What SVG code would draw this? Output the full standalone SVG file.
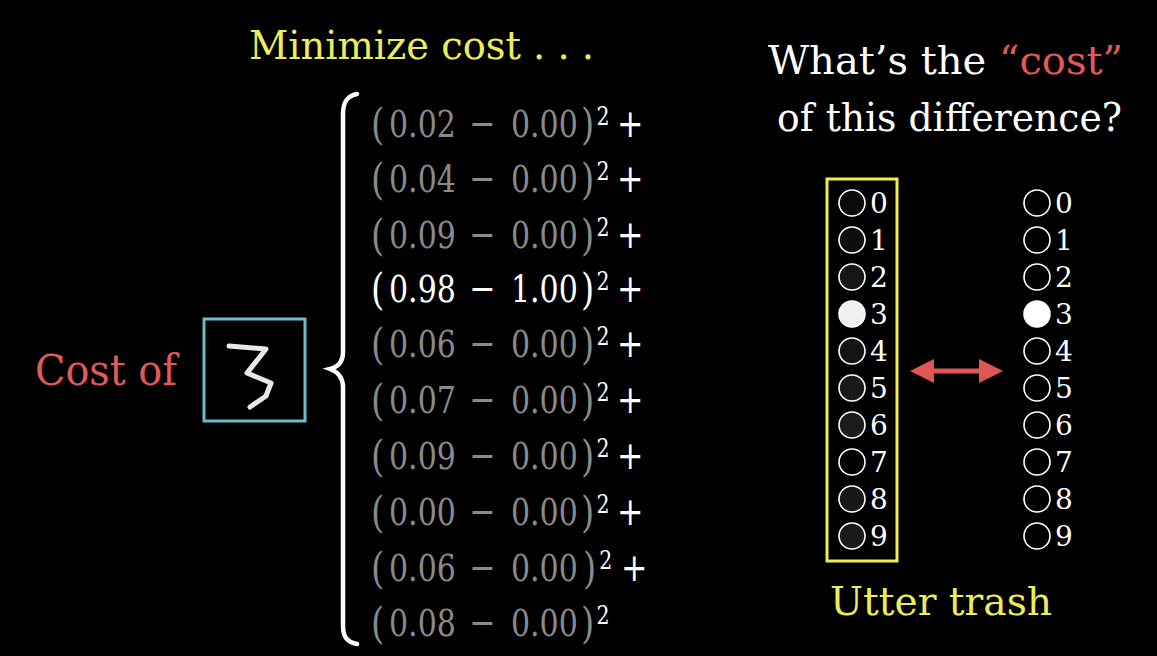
<svg xmlns="http://www.w3.org/2000/svg" width="1157" height="656" viewBox="0 0 1157 656">
<style>
text{font-family:"DejaVu Serif",serif;}
.g{fill:#8a8a8a;}
.w{fill:#ffffff;}
.num{font-size:38px;}
.mn{font-size:40px;}
.par{font-size:43px;}
.sup{font-size:26px;fill:#ffffff;}
.plus{font-size:40px;fill:#ffffff;}
.yel{fill:#eded5a;}
.red{fill:#e05a5a;}
.lbl{font-size:28px;fill:#ffffff;}
.c{stroke:#ffffff;stroke-width:1.6;}
</style>
<defs>
<marker id="ah" viewBox="0 0 24 24" refX="0" refY="12" markerWidth="24" markerHeight="24" markerUnits="userSpaceOnUse" orient="auto-start-reverse">
<path d="M0,0 L24,12 L0,24 Z" fill="#e05555"/>
</marker>
</defs>
<rect x="0" y="0" width="1157" height="656" fill="#000000"/>

<g id="title-minimize">
<text class="yel" x="249" y="59" font-size="40" textLength="345" lengthAdjust="spacingAndGlyphs">Minimize cost . . .</text>
</g>

<g id="title-question">
<text class="w" x="768" y="74" font-size="40" textLength="355" lengthAdjust="spacingAndGlyphs">What’s the <tspan class="red">“cost”</tspan></text>
<text class="w" x="777" y="131" font-size="40" textLength="345" lengthAdjust="spacingAndGlyphs">of this difference?</text>
</g>

<g id="cost-of">
<text class="red" x="35" y="385" font-size="42" textLength="142" lengthAdjust="spacingAndGlyphs">Cost of</text>
</g>

<g id="input-image">
<rect x="204" y="319" width="101" height="102" fill="#000" stroke="#6cbcc9" stroke-width="3"/>
<polyline points="229,346 266,349 247,373 271,383 266,396 250,407" fill="none" stroke="#e8e8e8" stroke-width="5" stroke-linecap="round" stroke-linejoin="round"/>
</g>

<g id="brace">
<path d="M357,94 C347,96 343,102 343,114 L343,352 C343,362 338,367 330,369 C338,372 343,377 343,387 L343,626 C343,637 347,642 357,644" fill="none" stroke="#ffffff" stroke-width="4.5" stroke-linecap="round"/>
</g>

<g id="sum-terms">
<text transform="translate(0,137) scale(0.79,1)"><tspan class="g par" x="469.6" y="2">(</tspan><tspan class="g num" x="492.4" y="0">0.02</tspan><tspan class="g mn" x="594" y="0">−</tspan><tspan class="g num" x="646.8" y="0">0.00</tspan><tspan class="g par" x="735.4" y="2">)</tspan><tspan class="sup" x="755" y="-12">2</tspan><tspan class="plus" x="781" y="0">+</tspan></text>
<text transform="translate(0,192) scale(0.79,1)"><tspan class="g par" x="469.6" y="2">(</tspan><tspan class="g num" x="492.4" y="0">0.04</tspan><tspan class="g mn" x="594" y="0">−</tspan><tspan class="g num" x="646.8" y="0">0.00</tspan><tspan class="g par" x="735.4" y="2">)</tspan><tspan class="sup" x="755" y="-12">2</tspan><tspan class="plus" x="781" y="0">+</tspan></text>
<text transform="translate(0,248) scale(0.79,1)"><tspan class="g par" x="469.6" y="2">(</tspan><tspan class="g num" x="492.4" y="0">0.09</tspan><tspan class="g mn" x="594" y="0">−</tspan><tspan class="g num" x="646.8" y="0">0.00</tspan><tspan class="g par" x="735.4" y="2">)</tspan><tspan class="sup" x="755" y="-12">2</tspan><tspan class="plus" x="781" y="0">+</tspan></text>
<text transform="translate(0,302) scale(0.79,1)"><tspan class="w par" x="469.6" y="2">(</tspan><tspan class="w num" x="492.4" y="0">0.98</tspan><tspan class="w mn" x="594" y="0">−</tspan><tspan class="w num" x="646.8" y="0">1.00</tspan><tspan class="w par" x="735.4" y="2">)</tspan><tspan class="sup" x="755" y="-12">2</tspan><tspan class="plus" x="781" y="0">+</tspan></text>
<text transform="translate(0,357) scale(0.79,1)"><tspan class="g par" x="469.6" y="2">(</tspan><tspan class="g num" x="492.4" y="0">0.06</tspan><tspan class="g mn" x="594" y="0">−</tspan><tspan class="g num" x="646.8" y="0">0.00</tspan><tspan class="g par" x="735.4" y="2">)</tspan><tspan class="sup" x="755" y="-12">2</tspan><tspan class="plus" x="781" y="0">+</tspan></text>
<text transform="translate(0,413) scale(0.79,1)"><tspan class="g par" x="469.6" y="2">(</tspan><tspan class="g num" x="492.4" y="0">0.07</tspan><tspan class="g mn" x="594" y="0">−</tspan><tspan class="g num" x="646.8" y="0">0.00</tspan><tspan class="g par" x="735.4" y="2">)</tspan><tspan class="sup" x="755" y="-12">2</tspan><tspan class="plus" x="781" y="0">+</tspan></text>
<text transform="translate(0,469) scale(0.79,1)"><tspan class="g par" x="469.6" y="2">(</tspan><tspan class="g num" x="492.4" y="0">0.09</tspan><tspan class="g mn" x="594" y="0">−</tspan><tspan class="g num" x="646.8" y="0">0.00</tspan><tspan class="g par" x="735.4" y="2">)</tspan><tspan class="sup" x="755" y="-12">2</tspan><tspan class="plus" x="781" y="0">+</tspan></text>
<text transform="translate(0,525) scale(0.79,1)"><tspan class="g par" x="469.6" y="2">(</tspan><tspan class="g num" x="492.4" y="0">0.00</tspan><tspan class="g mn" x="594" y="0">−</tspan><tspan class="g num" x="646.8" y="0">0.00</tspan><tspan class="g par" x="735.4" y="2">)</tspan><tspan class="sup" x="755" y="-12">2</tspan><tspan class="plus" x="781" y="0">+</tspan></text>
<text transform="translate(0,581) scale(0.79,1)"><tspan class="g par" x="469.6" y="2">(</tspan><tspan class="g num" x="492.4" y="0">0.06</tspan><tspan class="g mn" x="594" y="0">−</tspan><tspan class="g num" x="646.8" y="0">0.00</tspan><tspan class="g par" x="738" y="2">)</tspan><tspan class="sup" x="758.5" y="-12">2</tspan><tspan class="plus" x="786" y="0">+</tspan></text>
<text transform="translate(0,636) scale(0.79,1)"><tspan class="g par" x="469.6" y="2">(</tspan><tspan class="g num" x="492.4" y="0">0.08</tspan><tspan class="g mn" x="594" y="0">−</tspan><tspan class="g num" x="646.8" y="0">0.00</tspan><tspan class="g par" x="735.4" y="2">)</tspan><tspan class="sup" x="755" y="-12">2</tspan></text>
</g>

<g id="network-output">
<rect x="827" y="179" width="70" height="382" fill="none" stroke="#eded50" stroke-width="3"/>
<circle class="c" cx="852" cy="203" r="13" fill="#0a0a0a"/><text class="lbl" x="870" y="213">0</text>
<circle class="c" cx="852" cy="240" r="13" fill="#0e0e0e"/><text class="lbl" x="870" y="250">1</text>
<circle class="c" cx="852" cy="277" r="13" fill="#161616"/><text class="lbl" x="870" y="287">2</text>
<circle class="c" cx="852" cy="314" r="13" fill="#f0f0f0"/><text class="lbl" x="870" y="324">3</text>
<circle class="c" cx="852" cy="351" r="13" fill="#141414"/><text class="lbl" x="870" y="361">4</text>
<circle class="c" cx="852" cy="388" r="13" fill="#1a1a1a"/><text class="lbl" x="870" y="398">5</text>
<circle class="c" cx="852" cy="425" r="13" fill="#1c1c1c"/><text class="lbl" x="870" y="435">6</text>
<circle class="c" cx="852" cy="462" r="13" fill="#000000"/><text class="lbl" x="870" y="472">7</text>
<circle class="c" cx="852" cy="499" r="13" fill="#181818"/><text class="lbl" x="870" y="509">8</text>
<circle class="c" cx="852" cy="536" r="13" fill="#1a1a1a"/><text class="lbl" x="870" y="546">9</text>
</g>

<g id="desired-output">
<circle class="c" cx="1037" cy="203" r="13" fill="#000"/><text class="lbl" x="1055" y="213">0</text>
<circle class="c" cx="1037" cy="240" r="13" fill="#000"/><text class="lbl" x="1055" y="250">1</text>
<circle class="c" cx="1037" cy="277" r="13" fill="#000"/><text class="lbl" x="1055" y="287">2</text>
<circle class="c" cx="1037" cy="314" r="13" fill="#ffffff"/><text class="lbl" x="1055" y="324">3</text>
<circle class="c" cx="1037" cy="351" r="13" fill="#000"/><text class="lbl" x="1055" y="361">4</text>
<circle class="c" cx="1037" cy="388" r="13" fill="#000"/><text class="lbl" x="1055" y="398">5</text>
<circle class="c" cx="1037" cy="425" r="13" fill="#000"/><text class="lbl" x="1055" y="435">6</text>
<circle class="c" cx="1037" cy="462" r="13" fill="#000"/><text class="lbl" x="1055" y="472">7</text>
<circle class="c" cx="1037" cy="499" r="13" fill="#000"/><text class="lbl" x="1055" y="509">8</text>
<circle class="c" cx="1037" cy="536" r="13" fill="#000"/><text class="lbl" x="1055" y="546">9</text>
</g>

<g id="utter-trash">
<text class="yel" x="830" y="615" font-size="40" textLength="222" lengthAdjust="spacingAndGlyphs">Utter trash</text>
</g>

<g id="connectors">
<line x1="934" y1="371" x2="979" y2="371" stroke="#e05555" stroke-width="5" marker-start="url(#ah)" marker-end="url(#ah)"/>
</g>
</svg>
